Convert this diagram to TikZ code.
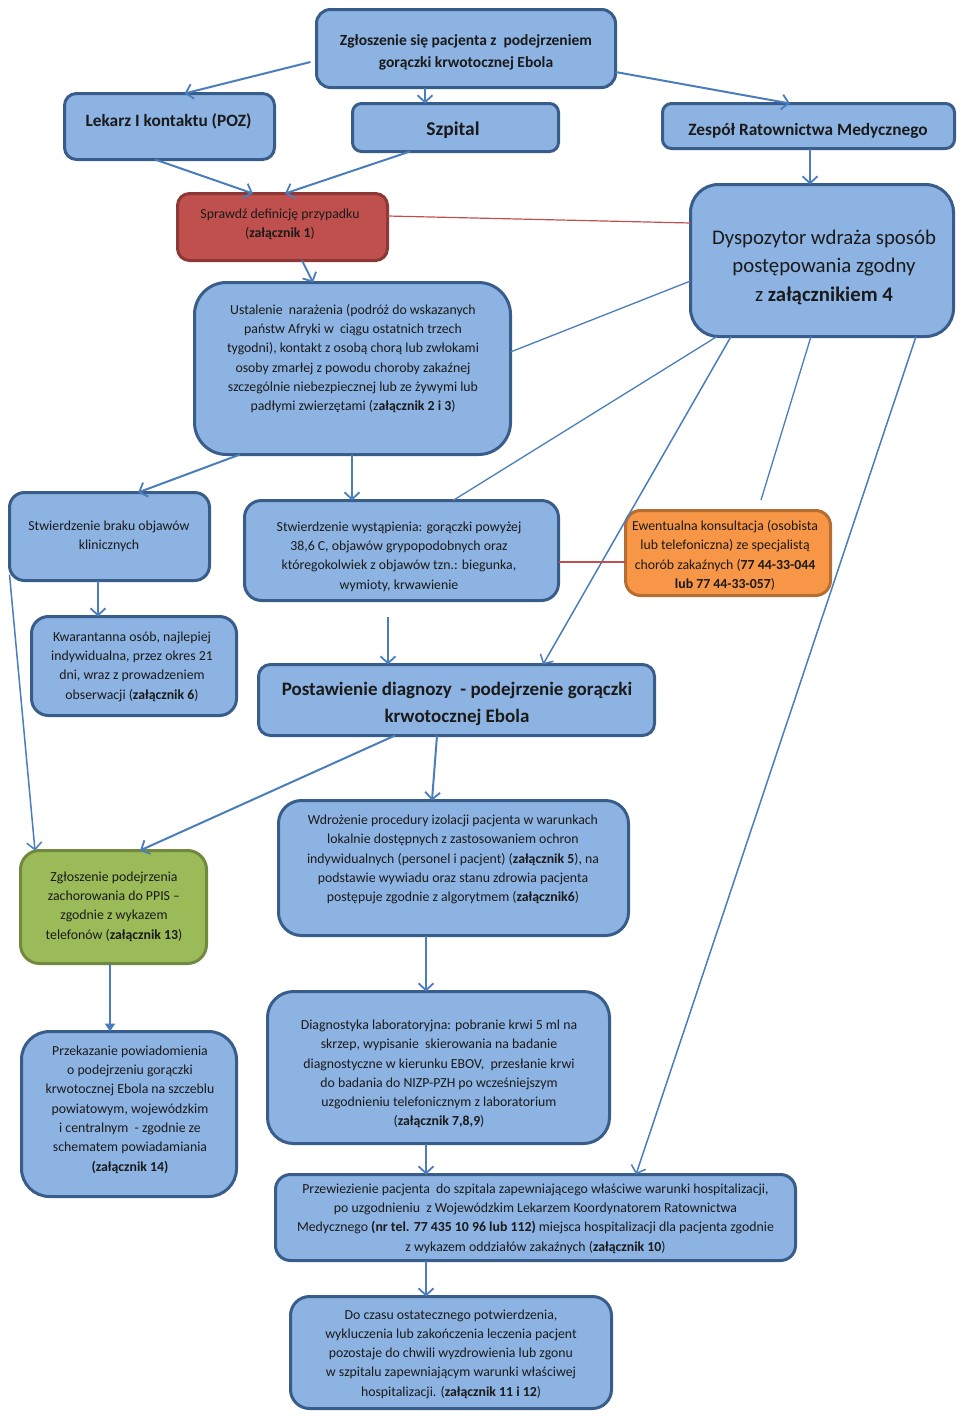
\documentclass[tikz,border=0pt]{standalone}
\usepackage{fontspec}
\setmainfont{Carlito}
\usetikzlibrary{arrows.meta}
\definecolor{bfill}{HTML}{8DB3E2}
\definecolor{bdraw}{HTML}{385D8A}
\definecolor{rfill}{HTML}{C0504D}
\definecolor{rdraw}{HTML}{8C3836}
\definecolor{ofill}{HTML}{F79646}
\definecolor{odraw}{HTML}{B66D31}
\definecolor{gfill}{HTML}{9BBB59}
\definecolor{gdraw}{HTML}{71893F}
\definecolor{conn}{HTML}{4A7EBB}
\definecolor{rline}{HTML}{C0504D}
\definecolor{txtc}{HTML}{1A1A1A}
\tikzset{
  box/.style={draw=bdraw, fill=bfill, line width=3pt, inner sep=0pt, outer sep=0pt},
  redbox/.style={box, draw=rdraw, fill=rfill},
  orbox/.style={box, draw=odraw, fill=ofill},
  grbox/.style={box, draw=gdraw, fill=gfill},
  txt/.style={align=center, text=txtc, inner sep=0pt, yshift=-1.5pt, font=\fontsize{13.8}{19.3}\selectfont},
  arr/.style={draw=conn, line width=2pt, -{Straight Barb[length=7pt,width=15pt,line width=1.8pt]}},
  thinarr/.style={draw=conn, line width=1.5pt, -{Straight Barb[length=7pt,width=15pt,line width=1.5pt]}},
  triarr/.style={draw=conn, line width=2pt, -{Triangle[length=8pt,width=10pt]}},
  plain/.style={draw=conn, line width=1.3pt},
  redln/.style={draw=rline, line width=1.2pt},
}
\newcommand{\bx}[6]{\node[#1, minimum width=#4pt, minimum height=#5pt, rounded corners=#6pt] (#2) at (#3) {};}
\begin{document}
\begin{tikzpicture}[x=1pt,y=-1pt]
\useasboundingbox (0,0) rectangle (960,1416);
% boxes
\bx{box}{top}{466,48.5}{299}{78}{14}
\bx{box}{lek}{169.5,126.5}{210}{66}{12}
\bx{box}{szp}{455.5,127.5}{206}{48}{9}
\bx{box}{zes}{808.5,126}{292}{45}{9}
\bx{redbox}{spr}{282.5,227}{210}{67}{12}
\bx{box}{dys}{822,260.5}{263}{152}{28}
\bx{box}{ust}{352.5,368.5}{316}{172}{32}
\bx{box}{bra}{109.5,536.5}{200}{88}{15}
\bx{box}{wys}{401.5,550.5}{314}{100}{17}
\bx{orbox}{ewe}{728,553}{205}{85}{15}
\bx{box}{kwa}{134,666}{205}{99}{17}
\bx{box}{pos}{456.5,700}{396}{71}{12}
\bx{grbox}{zgl}{113.5,907}{186}{113}{19}
\bx{box}{wdr}{453.5,868}{350}{135}{23}
\bx{box}{prz}{129,1114}{215}{165}{28}
\bx{box}{dia}{438.5,1067.5}{342}{152}{26}
\bx{box}{pwz}{535.5,1217.5}{520}{86}{15}
\bx{box}{doc}{451,1352.5}{321}{112}{19}
% texts
\node[txt, font=\bfseries\fontsize{15.5}{22}\selectfont] (ttop) at (466,51) {Zgłoszenie się pacjenta z \ podejrzeniem\\gorączki krwotocznej Ebola};
\node[txt, font=\bfseries\fontsize{17.3}{20}\selectfont] (tlek) at (168.5,120) {Lekarz I kontaktu (POZ)};
\node[txt, font=\bfseries\fontsize{19.5}{22}\selectfont] (tszp) at (453,129) {Szpital};
\node[txt, font=\bfseries\fontsize{17.3}{20}\selectfont] (tzes) at (808,129) {Zespół Ratownictwa Medycznego};
\node[txt] (tspr) at (280,222.5) {Sprawdź definicję przypadku\\(\textbf{załącznik 1})};
\node[txt, font=\fontsize{20.8}{28.5}\selectfont] (tdys) at (824,265.5) {Dyspozytor wdraża sposób\\postępowania zgodny\\z \textbf{załącznikiem 4}};
\node[txt] (tust) at (353,357) {Ustalenie \ narażenia (podróż do wskazanych\\państw Afryki w \ ciągu ostatnich trzech\\tygodni), kontakt z osobą chorą lub zwłokami\\osoby zmarłej z powodu choroby zakaźnej\\szczególnie niebezpiecznej lub ze żywymi lub\\padłymi zwierzętami (z\textbf{ałącznik 2 i 3})};
\node[txt] (tbra) at (109,535) {Stwierdzenie braku objawów\\klinicznych};
\node[txt] (twys) at (399,555) {Stwierdzenie wystąpienia: gorączki powyżej\\38,6 C, objawów grypopodobnych oraz\\któregokolwiek z objawów tzn.: biegunka,\\wymioty, krwawienie};
\node[txt] (tewe) at (725,554) {Ewentualna konsultacja (osobista\\lub telefoniczna) ze specjalistą\\chorób zakaźnych (\textbf{77 44-33-044}\\\textbf{lub 77 44-33-057})};
\node[txt] (tkwa) at (132,665) {Kwarantanna osób, najlepiej\\indywidualna, przez okres 21\\dni, wraz z prowadzeniem\\obserwacji (\textbf{załącznik 6})};
\node[txt, font=\bfseries\fontsize{19}{27}\selectfont] (tpos) at (457,702.5) {Postawienie diagnozy \ - podejrzenie gorączki\\krwotocznej Ebola};
\node[txt] (tzgl) at (114,905) {Zgłoszenie podejrzenia\\zachorowania do PPIS –\\zgodnie z wykazem\\telefonów (\textbf{załącznik 13})};
\node[txt] (twdr) at (453,858) {Wdrożenie procedury izolacji pacjenta w warunkach\\lokalnie dostępnych z zastosowaniem ochron\\indywidualnych (personel i pacjent) (\textbf{załącznik 5}), na\\podstawie wywiadu oraz stanu zdrowia pacjenta\\postępuje zgodnie z algorytmem (\textbf{załącznik6})};
\node[txt] (tprz) at (130,1108) {Przekazanie powiadomienia\\o podejrzeniu gorączki\\krwotocznej Ebola na szczeblu\\powiatowym, wojewódzkim\\i centralnym \ - zgodnie ze\\schematem powiadamiania\\\textbf{(załącznik 14)}};
\node[txt] (tdia) at (439,1072.5) {Diagnostyka laboratoryjna: pobranie krwi 5 ml na\\skrzep, wypisanie \ skierowania na badanie\\diagnostyczne w kierunku EBOV, \ przesłanie krwi\\do badania do NIZP-PZH po wcześniejszym\\uzgodnieniu telefonicznym z laboratorium\\(\textbf{załącznik 7,8,9})};
\node[txt] (tpwz) at (535.5,1217) {Przewiezienie pacjenta \ do szpitala zapewniającego właściwe warunki hospitalizacji,\\po uzgodnieniu \ z Wojewódzkim Lekarzem Koordynatorem Ratownictwa\\Medycznego \textbf{(nr tel. 77 435 10 96 lub 112)} miejsca hospitalizacji dla pacjenta zgodnie\\z wykazem oddziałów zakaźnych (\textbf{załącznik 10})};
\node[txt] (tdoc) at (451,1352.5) {Do czasu ostatecznego potwierdzenia,\\wykluczenia lub zakończenia leczenia pacjent\\pozostaje do chwili wyzdrowienia lub zgonu\\w szpitalu zapewniającym warunki właściwej\\hospitalizacji. (\textbf{załącznik 11 i 12})};
% connectors
\coordinate (lend) at (761,500);
\draw[arr] ([shift={(-6pt,-13.5pt)}]top.west) -- ([xshift=15pt]lek.north);
\draw[arr] ([xshift=-41pt]top.south) -- ([xshift=-30.5pt]szp.north);
\draw[arr] ([yshift=-23.5pt]top.east) -- ([xshift=-18.5pt]zes.north);
\draw[arr] ([xshift=-14.5pt]lek.south) -- ([xshift=-29.5pt]spr.north);
\draw[arr] ([xshift=-45.5pt]szp.south) -- ([xshift=2.5pt]spr.north);
\draw[arr] ([xshift=19.5pt]spr.south) -- ([xshift=-39.5pt]ust.north);
\draw[redln] ([yshift=11pt]spr.east) -- ([yshift=37.5pt]dys.west);
\draw[arr] ([xshift=1.5pt]zes.south) -- ([xshift=-12pt]dys.north);
\draw[plain] ([yshift=16.5pt]ust.east) -- ([yshift=-20.5pt]dys.west);
\draw[plain] ([xshift=-105pt]dys.south) -- ([xshift=51.5pt]wys.north);
\draw[thinarr] ([xshift=-91pt]dys.south) -- ([xshift=86.5pt]pos.north);
\draw[plain] ([xshift=-11pt]dys.south) -- (lend);
\draw[thinarr] ([xshift=94pt]dys.south) -- ([xshift=100.5pt]pwz.north);
\draw[arr] ([xshift=-112.5pt]ust.south) -- ([xshift=28.5pt]bra.north);
\draw[arr] ([xshift=-0.5pt]ust.south) -- ([xshift=-49.5pt]wys.north);
\draw[redln] ([yshift=-11.5pt]wys.east) -- ([yshift=-9pt]ewe.west);
\draw[arr] ([xshift=-11.5pt]bra.south) -- ([xshift=-36pt]kwa.north);
\draw[thinarr] ([yshift=6pt]bra.south west) -- ([xshift=-78.5pt]zgl.north);
\draw[arr] ([shift={(-13.5pt,-16.5pt)}]wys.south) -- ([xshift=-68.5pt]pos.north);
\draw[arr] ([xshift=-61.5pt]pos.south) -- ([xshift=26.5pt]zgl.north);
\draw[arr] ([xshift=-19.5pt]pos.south) -- ([xshift=-21.5pt]wdr.north);
\draw[triarr] ([xshift=-3.5pt]zgl.south) -- ([xshift=-19pt]prz.north);
\draw[arr] ([xshift=-27.5pt]wdr.south) -- ([xshift=-12.5pt]dia.north);
\draw[arr] ([xshift=-12.5pt]dia.south) -- ([xshift=-109.5pt]pwz.north);
\draw[arr] ([xshift=-109.5pt]pwz.south) -- ([xshift=-25pt]doc.north);
\end{tikzpicture}
\end{document}
